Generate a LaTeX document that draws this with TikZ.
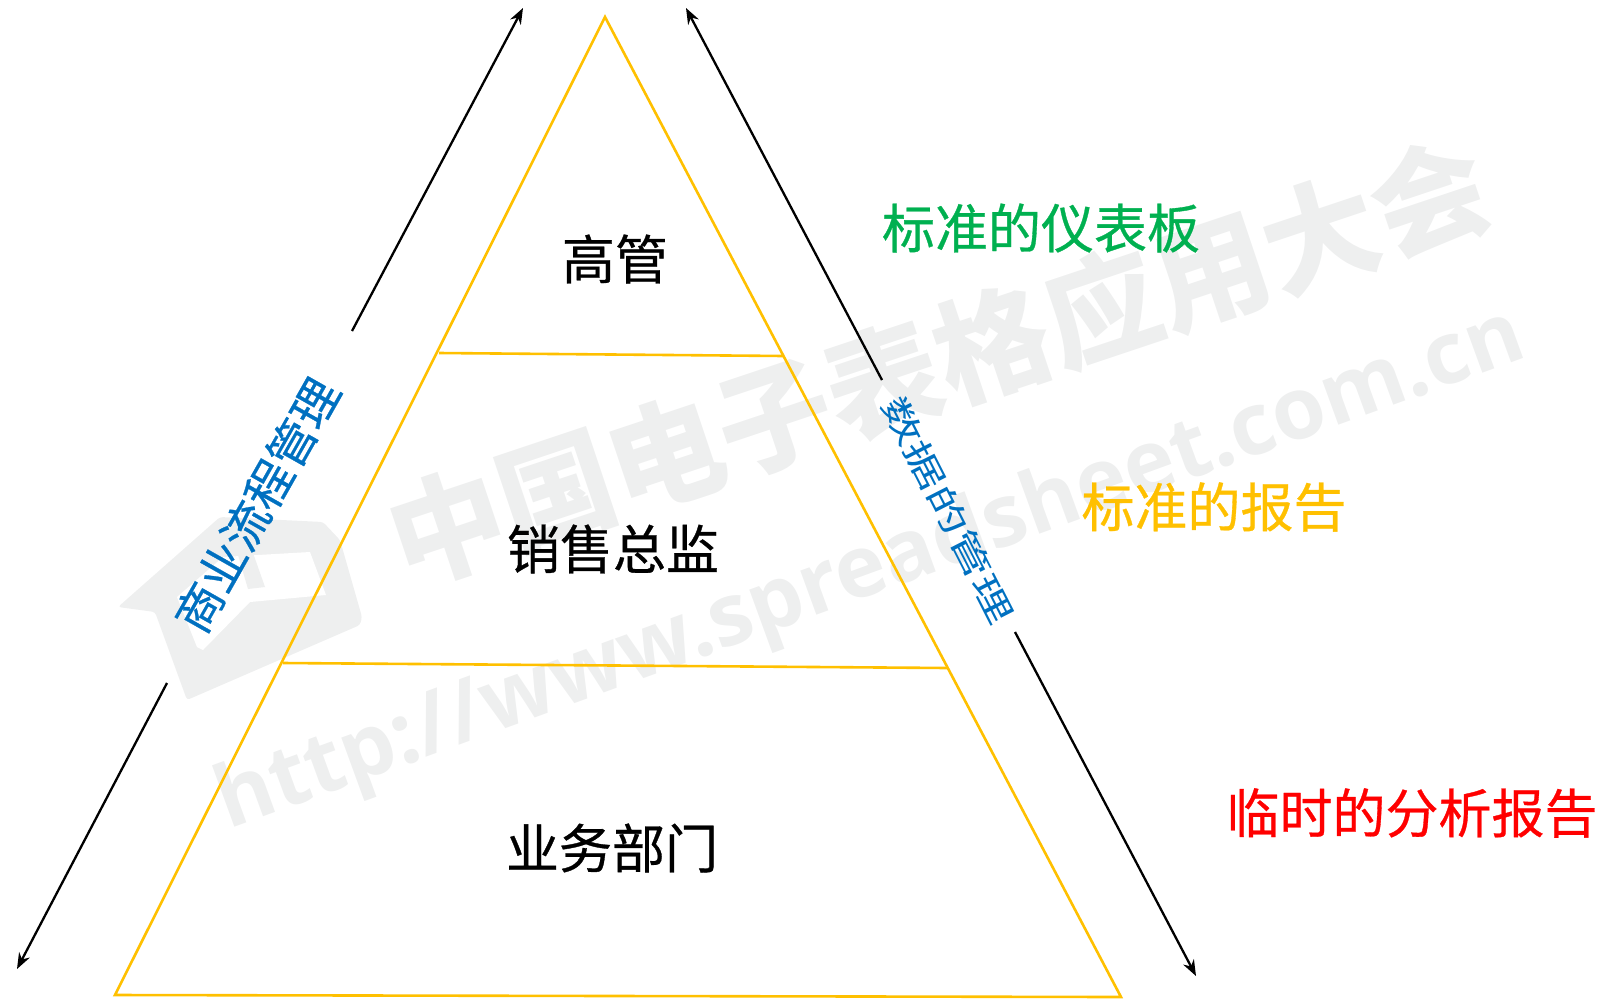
\documentclass[tikz,border=0pt]{standalone}
\usepackage{fontspec}
\setmainfont{Noto Sans CJK SC}
\newfontfamily\labfont[FakeBold=0.6]{Noto Sans CJK SC}
\newfontfamily\wmfont{Open Sans}
\usetikzlibrary{arrows.meta}
\definecolor{gold}{HTML}{FFC000}
\definecolor{wm}{HTML}{EEEFEF}
\definecolor{grn}{HTML}{00B050}
\definecolor{blu}{HTML}{0070C0}
\definecolor{rd}{HTML}{FF0000}
\tikzset{
  layer/.style={draw=gold,line width=2.6pt},
  arrowline/.style={draw=black,line width=2.3pt,-{Stealth[length=16pt,width=12pt]}},
  lab/.style={inner sep=0pt,font=\fontsize{53}{53}\labfont},
  side/.style={inner sep=0pt,text=blu},
  wmtext/.style={inner sep=0pt,text=wm}
}
\begin{document}
\begin{tikzpicture}[x=1pt,y=-1pt]
\useasboundingbox (0,0) rectangle (1613,999);
% watermark
\node[wmtext,rotate=18.5,font=\fontsize{115}{115}\selectfont\bfseries] (wm1) at (938,362) {中国电子表格应用大会};
\node[wmtext,rotate=20,font=\fontsize{86}{86}\wmfont\bfseries] (wm2) at (871,572) {http://www.spreadsheet.com.cn};
\fill[wm,rounded corners=3pt] (118,607)--(155,612)--(187,700)--(360,625)--(362,617)--(340,540)--(323,522)--(220,517)--cycle;
\fill[white] (310,552)--(326,595)--(250,602)--(203,650)--(197,647)--(177,597)--(223,557)--cycle;
\fill[wm] (238,555)--(253,553)--(265,587)--(248,589)--cycle;
% triangle
\coordinate (apex) at (605,17);
\coordinate (bl) at (115,995);
\coordinate (br) at (1121,997);
\coordinate (a1) at (439,353);
\coordinate (b1) at (784,356);
\coordinate (a2) at (283,663);
\coordinate (b2) at (948,668);
\draw[layer] (apex)--(br)--(bl)--cycle;
\draw[layer] (a1)--(b1);
\draw[layer] (a2)--(b2);
% arrows
\coordinate (u1s) at (352,331); \coordinate (u1e) at (523,8);
\coordinate (d1s) at (167,683); \coordinate (d1e) at (17,969);
\coordinate (u2s) at (882,380); \coordinate (u2e) at (686,8);
\coordinate (d2s) at (1015,632); \coordinate (d2e) at (1196,976);
\draw[arrowline] (u1s)--(u1e);
\draw[arrowline] (d1s)--(d1e);
\draw[arrowline] (u2s)--(u2e);
\draw[arrowline] (d2s)--(d2e);
% labels
\node[lab] (n1) at (615,259) {高管};
\node[lab] (n2) at (613,549) {销售总监};
\node[lab] (n3) at (612,848) {业务部门};
\node[lab,text=grn] (r1) at (1041,228) {标准的仪表板};
\node[lab,text=gold] (r2) at (1214,507) {标准的报告};
\node[lab,text=rd] (r3) at (1412,813) {临时的分析报告};
\node[side,rotate=60.5,font=\fontsize{47}{47}\labfont] (s1) at (257,505) {商业流程管理};
\node[side,rotate=-63] (s2) at (948,510) {\scalebox{1}[0.66]{\fontsize{50}{50}\selectfont 数据的管理}};
\end{tikzpicture}
\end{document}
